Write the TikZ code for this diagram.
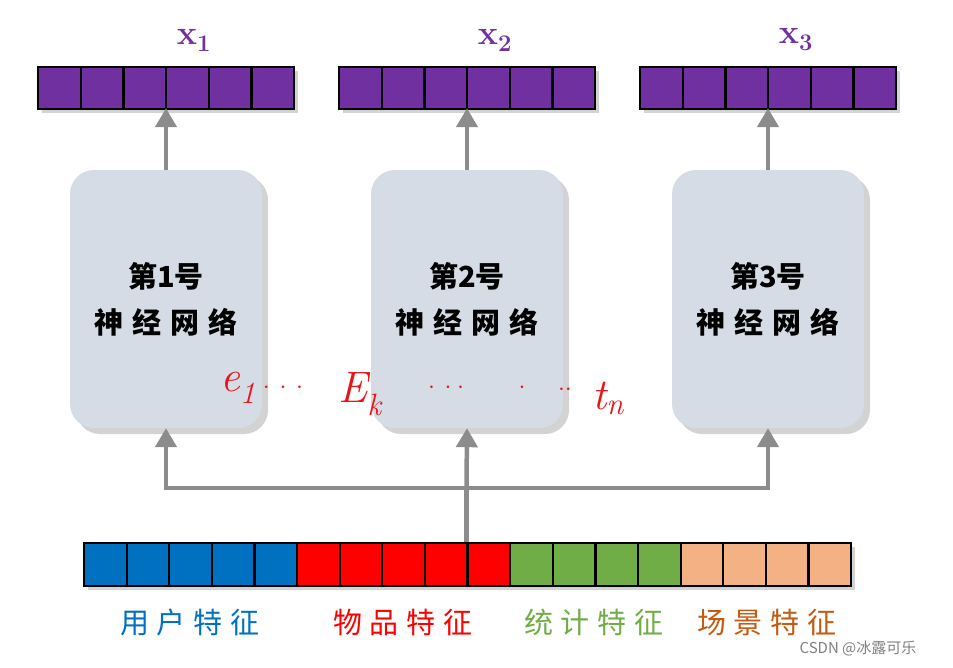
\documentclass[tikz,border=0pt]{standalone}
\usepackage{fontspec}
\newfontfamily\cjk{Noto Sans CJK SC}
\usetikzlibrary{positioning, arrows.meta, shadows, fit, calc}
\definecolor{vecpurple}{HTML}{7030A0}
\definecolor{userblue}{HTML}{0070C0}
\definecolor{itemred}{HTML}{FF0000}
\definecolor{statgreen}{HTML}{70AD47}
\definecolor{scenepeach}{HTML}{F4B183}
\definecolor{scenebrown}{HTML}{C55A11}
\definecolor{netgray}{HTML}{D6DCE5}
\definecolor{flowgray}{HTML}{8C8C8C}
\definecolor{inkred}{HTML}{E8141A}

\begin{document}
\begin{tikzpicture}[
  x=1pt, y=-1pt,
  every node/.style={font=\cjk},
  cell/.style={draw=black, line width=2.2pt, minimum width=42.6pt,
    minimum height=42pt, inner sep=0pt, anchor=north west},
  barshadow/.style={inner sep=0pt, fill=white,
    drop shadow={shadow xshift=5pt, shadow yshift=-5pt, opacity=.35}},
  netbox/.style={fill=netgray, rounded corners=24pt, minimum width=192pt,
    minimum height=258pt, inner sep=0pt, align=center,
    font=\cjk\bfseries\fontsize{29}{46}\selectfont,
    drop shadow={shadow xshift=6pt, shadow yshift=-6pt, opacity=.35}},
  flow/.style={draw=flowgray, line width=4.5pt,
    -{Triangle[width=21pt, length=19pt]}},
  trunk/.style={draw=flowgray, line width=4.5pt},
  veclabel/.style={text=vecpurple, font=\bfseries\fontsize{34}{34}\selectfont},
  featlabel/.style={font=\cjk\fontsize{29}{29}\selectfont},
  ink/.style={text=inkred, font=\itshape\fontsize{44}{44}\selectfont}
]
\useasboundingbox (0,0) rectangle (953,667);

% output vectors
\foreach \v/\cx in {1/165, 2/466, 3/767} {
  \node[barshadow, minimum width=256pt, minimum height=42pt] (vec\v) at (\cx,87) {};
  \foreach \c in {1,...,6}
    \node[cell, fill=vecpurple] (v\v c\c) at ({\cx-128+(\c-1)*42.67},66) {};
  \node[veclabel] (lab\v) at (\cx+29,40) {x\textsubscript{\v}};
}

% networks
\foreach \v/\cx in {1/166, 2/467, 3/768}
  \node[netbox] (net\v) at (\cx,299) {第\v 号\\神\kern9pt 经\kern9pt 网\kern9pt 络};

% feature vector
\node[barshadow, minimum width=767pt, minimum height=43pt] (feat) at (466.5,563.5) {};
\foreach \c/\col in {1/userblue, 2/userblue, 3/userblue, 4/userblue, 5/userblue,
    6/itemred, 7/itemred, 8/itemred, 9/itemred, 10/itemred,
    11/statgreen, 12/statgreen, 13/statgreen, 14/statgreen,
    15/scenepeach, 16/scenepeach, 17/scenepeach, 18/scenepeach}
  \node[cell, fill=\col, minimum height=43pt] (f\c) at ({83+(\c-1)*42.61},542) {};

% feature groups
\node[featlabel, text=userblue]   (user)  at (190,622) {用\kern8pt 户\kern8pt 特\kern8pt 征};
\node[featlabel, text=itemred]    (item)  at (403,622) {物\kern8pt 品\kern8pt 特\kern8pt 征};
\node[featlabel, text=statgreen]  (stat)  at (594,622) {统\kern8pt 计\kern8pt 特\kern8pt 征};
\node[featlabel, text=scenebrown] (scene) at (767,622) {场\kern8pt 景\kern8pt 特\kern8pt 征};

% connectors
\coordinate (hub) at (feat.north |- 0,488);
\draw[trunk] (feat.north) -- (hub);
\draw[flow] (hub) -- (net2.south);
\draw[flow] (hub) -| (net1.south);
\draw[flow] (hub) -| (net3.south);
\foreach \v in {1,2,3}
  \draw[flow] (net\v.north) -- (net\v.north |- vec\v.south);

% handwriting
\node[ink] (e1) at (238,388) {e\textsubscript{1}};
\node[ink] (d1) at (283,388) {$\cdot\,\cdot\,\cdot$};
\node[ink] (ek) at (360,394) {E\textsubscript{k}};
\node[ink] (d2) at (446,388) {$\cdot\,\cdot\cdot$};
\node[ink] (d3) at (522,388) {$\cdot$};
\node[ink] (d4) at (565,390) {$\cdot\cdot$};
\node[ink] (tn) at (608,398) {t\textsubscript{n}};

% watermark
\node[text=gray, font=\cjk\fontsize{15}{15}\selectfont] (mark) at (858,648) {CSDN @冰露可乐};
\end{tikzpicture}
\end{document}
